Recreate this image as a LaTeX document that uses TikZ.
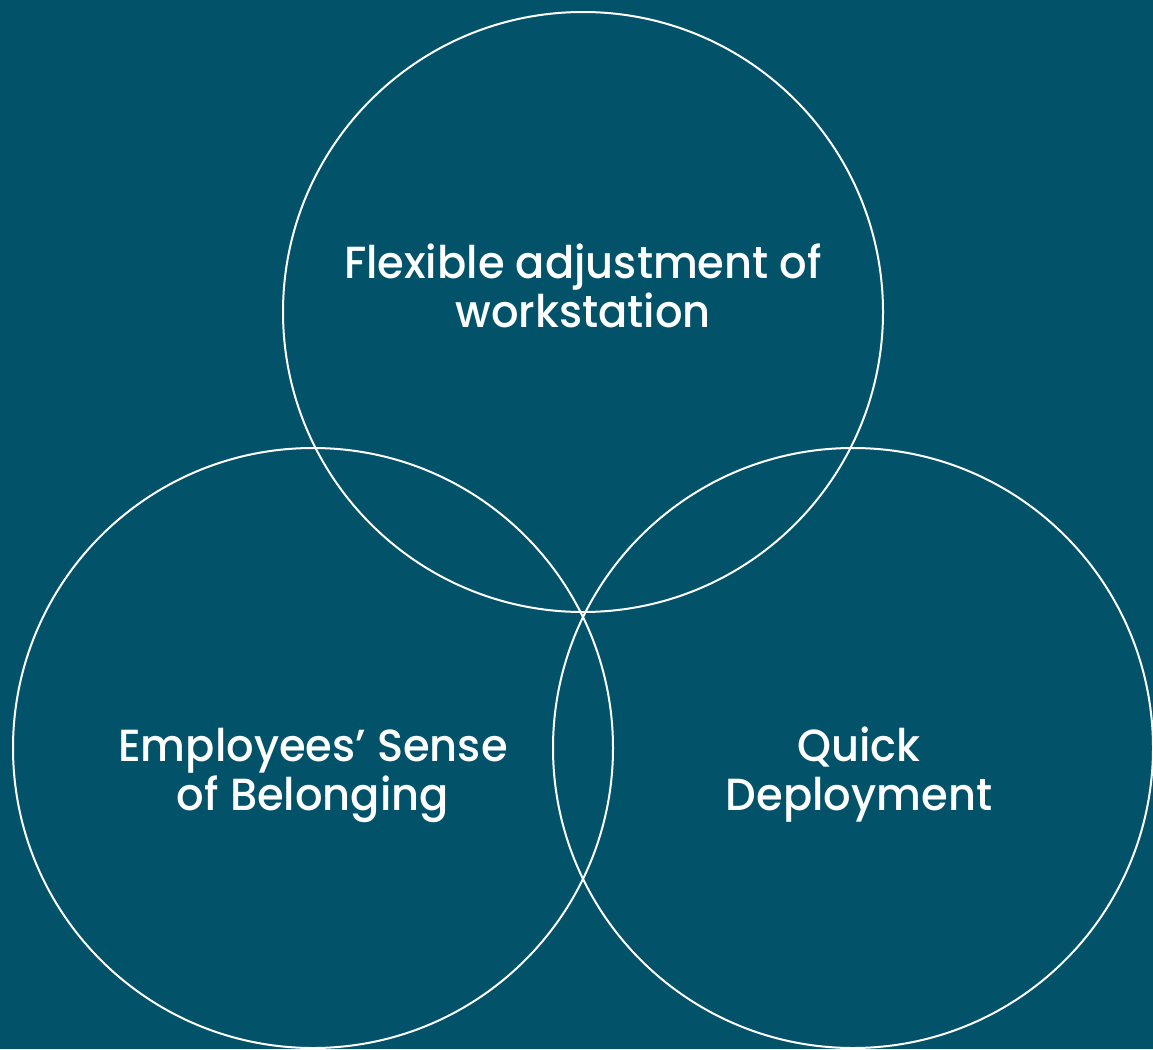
\documentclass[tikz,border=0pt]{standalone}
\usepackage{fontspec}
\setmainfont{Poppins Medium}[FakeStretch=0.96]
\definecolor{bg}{RGB}{2,83,106}
\begin{document}
\begin{tikzpicture}[x=1pt,y=-1pt,
  ring/.style={draw=white,line width=2pt},
  lbl/.style={text=white,align=center,font=\fontsize{45}{49}\selectfont,inner sep=0pt,anchor=base}]
\fill[bg] (0,0) rectangle (1153,1049);
\useasboundingbox (0,0) rectangle (1153,1049);
\node[ring,circle,minimum size=600pt,inner sep=0pt] (top) at (583,312) {};
\node[ring,circle,minimum size=600pt,inner sep=0pt] (left) at (313,748) {};
\node[ring,circle,minimum size=600pt,inner sep=0pt] (right) at (853,748) {};
\node[lbl] (t1) at (583,327) {Flexible adjustment of\\workstation};
\node[lbl] (t2) at (313,810) {Employees’ Sense\\of Belonging};
\node[lbl] (t3) at (859,810) {Quick\\Deployment};
\end{tikzpicture}
\end{document}
